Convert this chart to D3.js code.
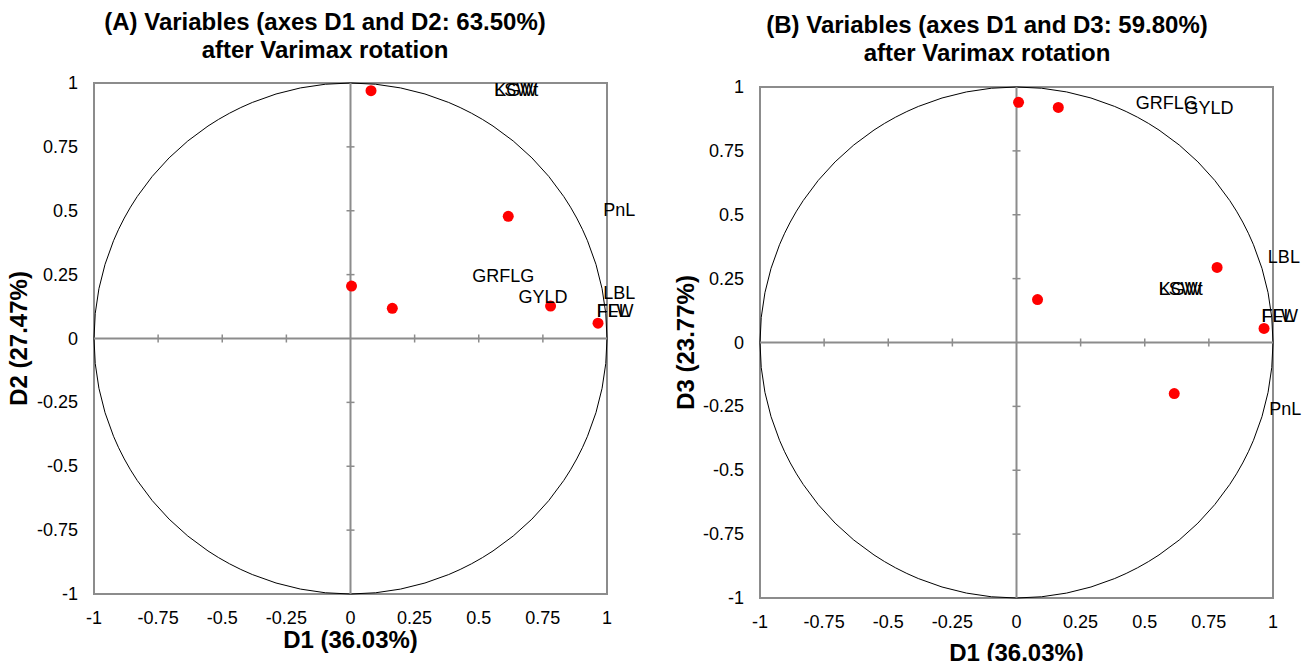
<!DOCTYPE html>
<html>
<head>
<meta charset="utf-8">
<script src="https://cdn.jsdelivr.net/npm/d3@7"></script>
<style>
  body { margin: 0; background: #fff; }
  text { font-family: Arial, "Liberation Sans", sans-serif; }
</style>
</head>
<body>
<div id="chart"></div>
<script>
const width = 1302
const height = 661

// tick values shared by both panels
const ticks = [-1, -0.75, -0.5, -0.25, 0, 0.25, 0.5, 0.75, 1]

// panel A: D1 vs D2
const pointsA = [[0.08, 0.97], [0.615, 0.478], [0.004, 0.205], [0.163, 0.118], [0.78, 0.127], [0.965, 0.06]]
const labelsA = [
  {name: 'KGW', x: 0.56, y: 0.95},
  {name: 'LSWt', x: 0.56, y: 0.95},
  {name: 'PnL', x: 0.985, y: 0.48},
  {name: 'GRFLG', x: 0.475, y: 0.22},
  {name: 'GYLD', x: 0.655, y: 0.14},
  {name: 'LBL', x: 0.985, y: 0.155},
  {name: 'FLW', x: 0.96, y: 0.085},
  {name: 'FFL', x: 0.96, y: 0.085}
]

// panel B: D1 vs D3
const pointsB = [[0.008, 0.94], [0.163, 0.92], [0.782, 0.294], [0.082, 0.168], [0.965, 0.055], [0.615, -0.2]]
const labelsB = [
  {name: 'GRFLG', x: 0.465, y: 0.915},
  {name: 'GYLD', x: 0.655, y: 0.895},
  {name: 'LBL', x: 0.98, y: 0.31},
  {name: 'KGW', x: 0.555, y: 0.185},
  {name: 'LSWt', x: 0.555, y: 0.185},
  {name: 'FLW', x: 0.955, y: 0.08},
  {name: 'FFL', x: 0.955, y: 0.08},
  {name: 'PnL', x: 0.985, y: -0.285}
]

const panels = [
  {title: ['(A) Variables (axes D1 and D2: 63.50%)', 'after Varimax rotation'], xLabel: 'D1 (36.03%)', yLabel: 'D2 (27.47%)',
   left: 94, top: 83, w: 513, h: 511, titleX: 325, titleY: 30, xLabelY: 648, yLabelX: 27, points: pointsA, labels: labelsA},
  {title: ['(B) Variables (axes D1 and D3: 59.80%)', 'after Varimax rotation'], xLabel: 'D1 (36.03%)', yLabel: 'D3 (23.77%)',
   left: 760, top: 87, w: 513, h: 511, titleX: 987, titleY: 33, xLabelY: 661, yLabelX: 694, points: pointsB, labels: labelsB}
]

const svg = d3.select('#chart')
  .append('svg')
  .attr('width', width)
  .attr('height', height)

const fmt = d => d === 0 ? '0' : String(d)

panels.forEach(p => {
  const x = d3.scaleLinear().domain([-1, 1]).range([p.left, p.left + p.w])
  const y = d3.scaleLinear().domain([-1, 1]).range([p.top + p.h, p.top])
  const g = svg.append('g')

  // title
  g.append('text')
    .attr('text-anchor', 'middle')
    .attr('font-weight', 'bold')
    .attr('font-size', 24)
    .selectAll('tspan')
    .data(p.title)
    .join('tspan')
    .attr('x', p.titleX)
    .attr('y', (d, i) => p.titleY + i * 28)
    .text(d => d)

  // frame
  g.append('rect')
    .attr('x', x(-1)).attr('y', y(1))
    .attr('width', x(1) - x(-1)).attr('height', y(-1) - y(1))
    .attr('fill', 'none').attr('stroke', '#8c8c8c').attr('stroke-width', 2)

  // unit circle
  g.append('ellipse')
    .attr('cx', x(0)).attr('cy', y(0))
    .attr('rx', x(1) - x(0)).attr('ry', y(0) - y(1))
    .attr('fill', 'none').attr('stroke', '#000').attr('stroke-width', 1)

  // axes through origin
  g.append('line')
    .attr('x1', x(-1)).attr('x2', x(1)).attr('y1', y(0)).attr('y2', y(0))
    .attr('stroke', '#8c8c8c').attr('stroke-width', 2)
  g.append('line')
    .attr('x1', x(0)).attr('x2', x(0)).attr('y1', y(-1)).attr('y2', y(1))
    .attr('stroke', '#8c8c8c').attr('stroke-width', 2)

  const inner = ticks.filter(t => t !== 0 && Math.abs(t) !== 1)
  g.append('g').selectAll('line')
    .data(inner)
    .join('line')
    .attr('x1', d => x(d)).attr('x2', d => x(d))
    .attr('y1', y(0) - 4).attr('y2', y(0) + 4)
    .attr('stroke', '#8c8c8c').attr('stroke-width', 1.5)
  g.append('g').selectAll('line')
    .data(inner)
    .join('line')
    .attr('y1', d => y(d)).attr('y2', d => y(d))
    .attr('x1', x(0) - 4).attr('x2', x(0) + 4)
    .attr('stroke', '#8c8c8c').attr('stroke-width', 1.5)

  // tick labels
  g.append('g').selectAll('text')
    .data(ticks)
    .join('text')
    .attr('x', d => x(d))
    .attr('y', y(-1) + 30)
    .attr('text-anchor', 'middle')
    .attr('font-size', 18)
    .text(fmt)
  g.append('g').selectAll('text')
    .data(ticks)
    .join('text')
    .attr('x', x(-1) - 16)
    .attr('y', d => y(d) + 6)
    .attr('text-anchor', 'end')
    .attr('font-size', 18)
    .text(fmt)

  // axis titles
  g.append('text')
    .attr('x', x(0)).attr('y', p.xLabelY)
    .attr('text-anchor', 'middle')
    .attr('font-weight', 'bold').attr('font-size', 24)
    .text(p.xLabel)
  g.append('text')
    .attr('transform', `translate(${p.yLabelX},${y(0)}) rotate(-90)`)
    .attr('text-anchor', 'middle')
    .attr('font-weight', 'bold').attr('font-size', 24)
    .text(p.yLabel)

  // points
  g.append('g').selectAll('circle')
    .data(p.points)
    .join('circle')
    .attr('cx', d => x(d[0])).attr('cy', d => y(d[1]))
    .attr('r', 5.5)
    .attr('fill', '#ff0000')

  // variable labels
  g.append('g').selectAll('text')
    .data(p.labels)
    .join('text')
    .attr('x', d => x(d.x)).attr('y', d => y(d.y))
    .attr('font-size', 18)
    .text(d => d.name)
})
</script>
</body>
</html>
